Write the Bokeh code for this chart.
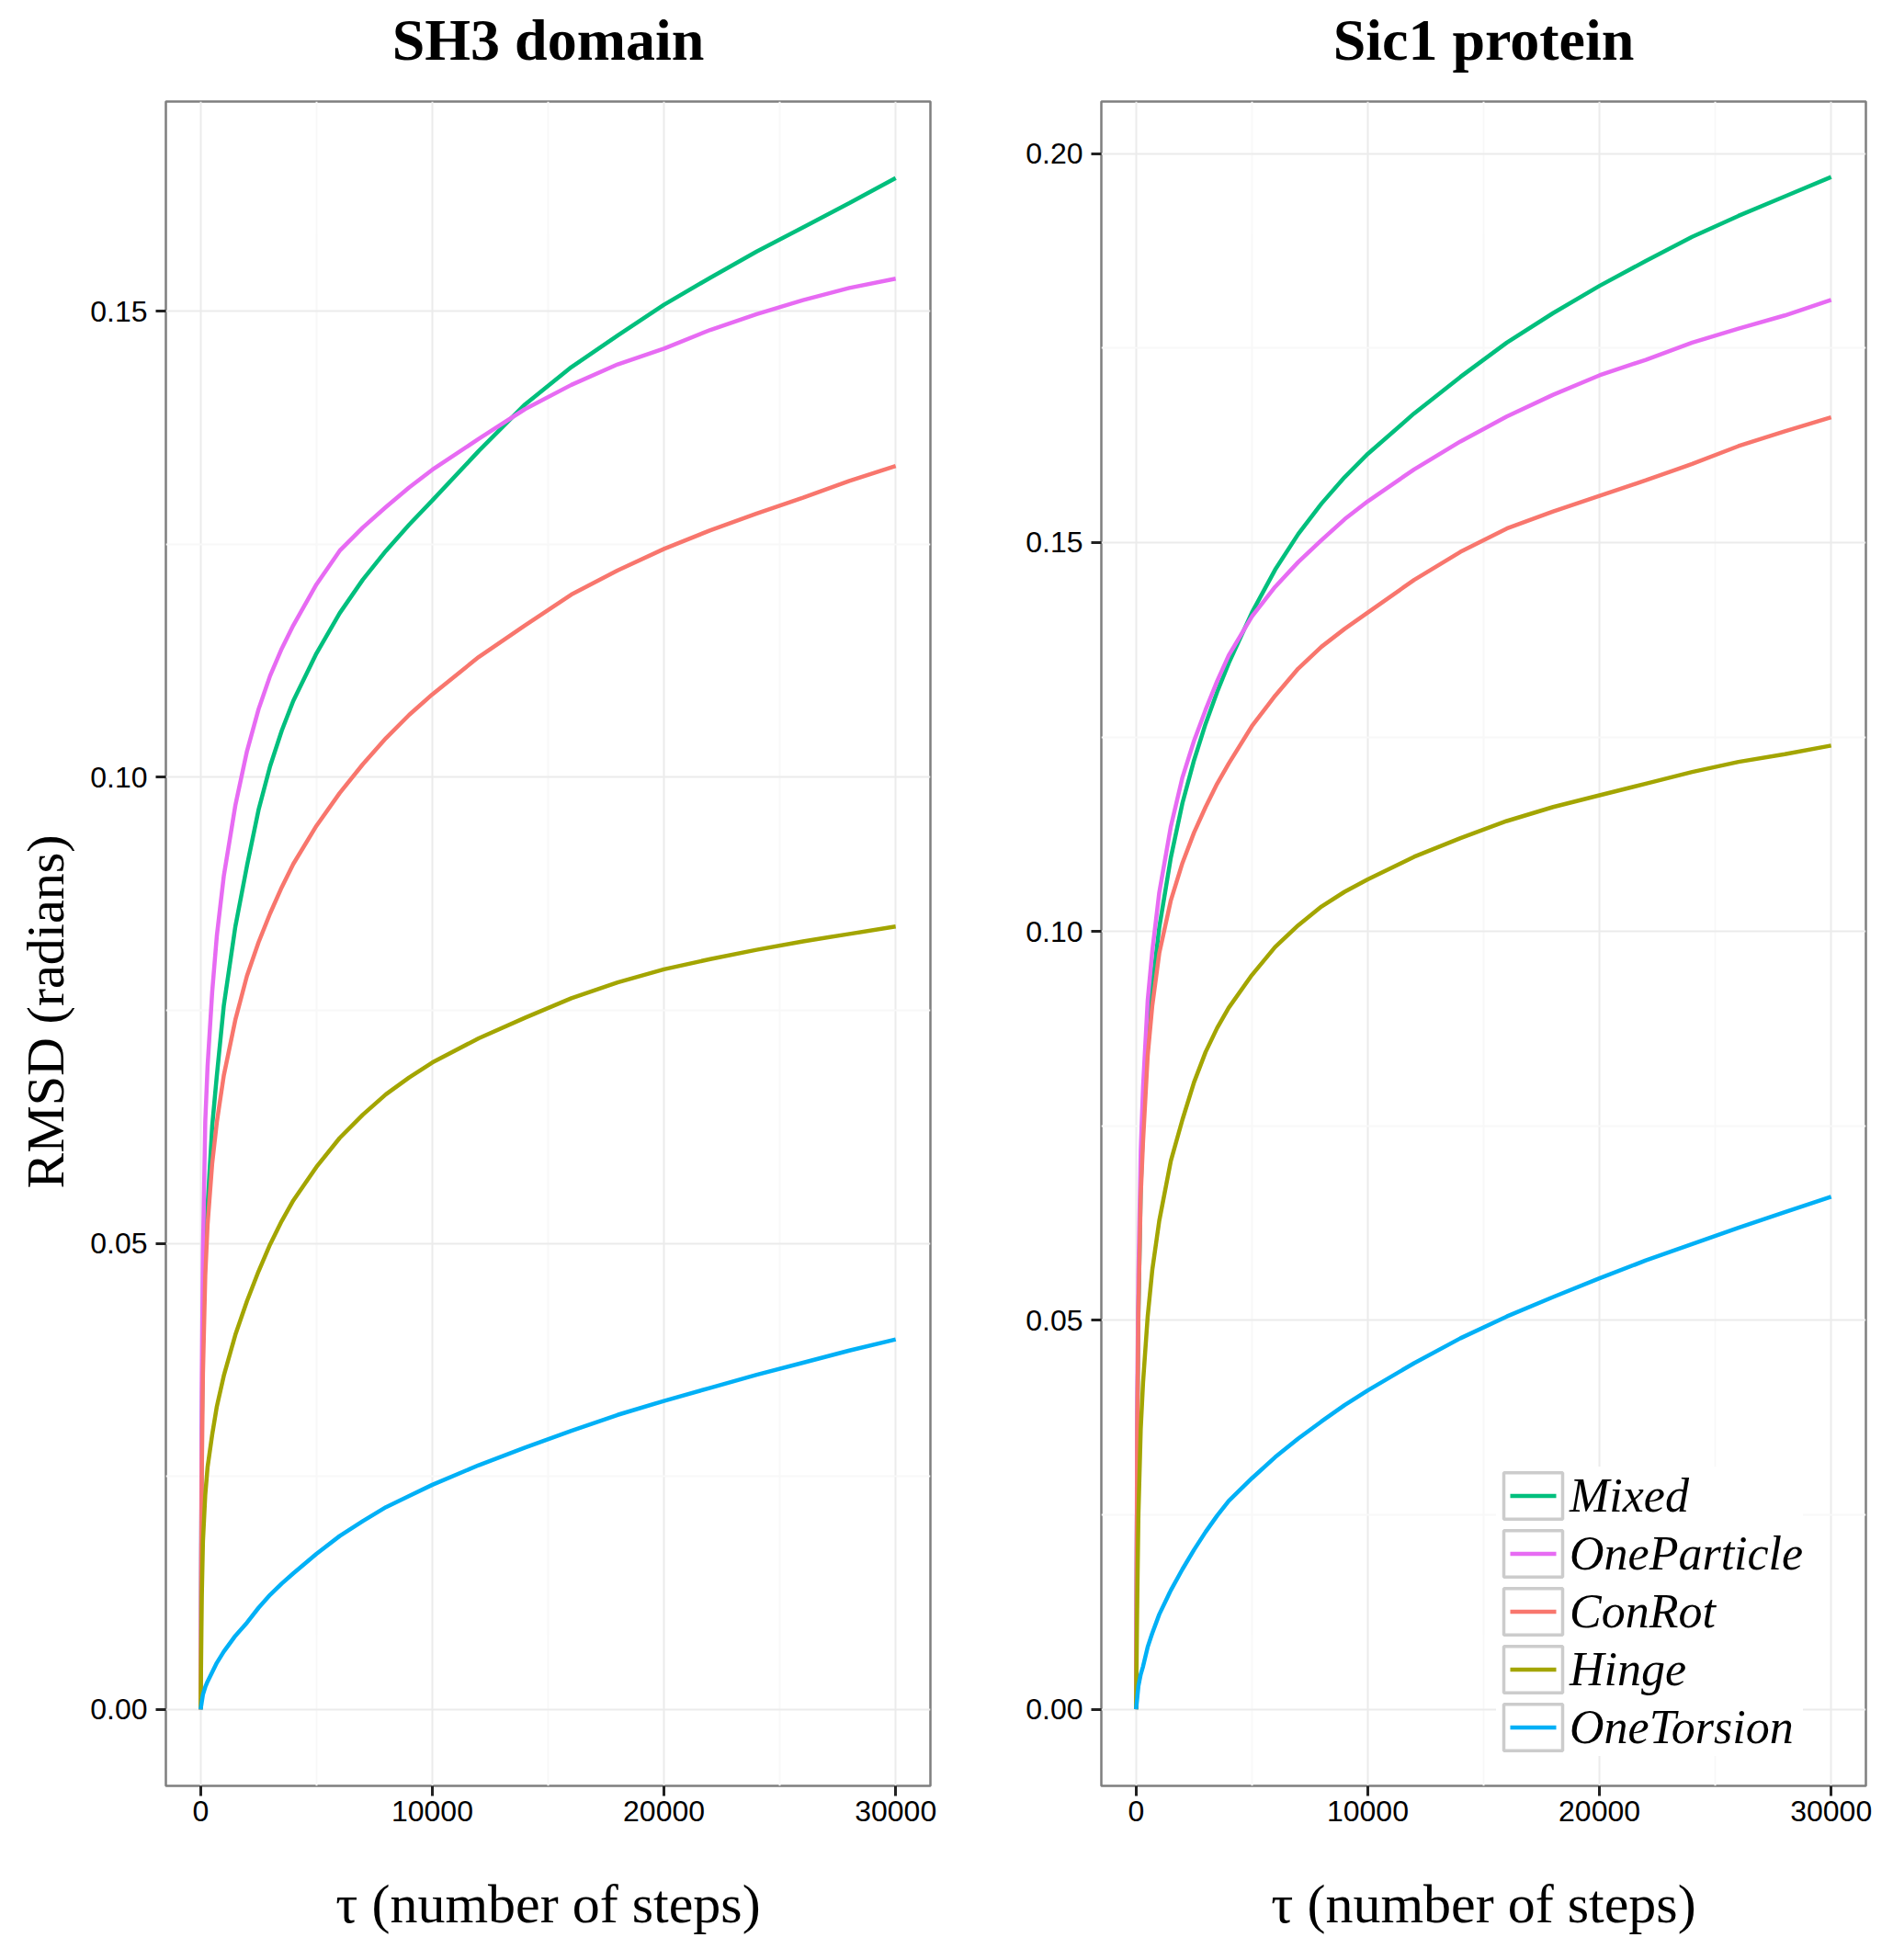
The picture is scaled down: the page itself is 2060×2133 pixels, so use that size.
from bokeh.plotting import figure
from bokeh.layouts import row
from bokeh.models import (FixedTicker, PrintfTickFormatter, Range1d, Title,
                          Legend, LegendItem, ColumnDataSource)
from bokeh.embed import file_html
from bokeh.resources import INLINE

# steps (tau) shared by every series
steps = [0, 50, 100, 200, 300, 500, 700, 1000, 1500, 2000, 2500, 3000, 3500, 4000,
         5000, 6000, 7000, 8000, 9000, 10000, 12000, 14000, 16000, 18000, 20000,
         22000, 24000, 26000, 28000, 30000]

# SH3 domain, RMSD (radians)
sh3_mixed = [0, 0.030, 0.040, 0.049, 0.054, 0.0626, 0.0680, 0.0755, 0.0840, 0.0905, 0.0965, 0.1012,
             0.1050, 0.1082, 0.1133, 0.1176, 0.1212, 0.1243, 0.1271, 0.1297, 0.1350, 0.1400, 0.1440,
             0.1474, 0.1507, 0.1536, 0.1564, 0.1590, 0.1616, 0.1643]
sh3_oneparticle = [0, 0.035, 0.049, 0.063, 0.069, 0.0770, 0.0830, 0.0894, 0.0970, 0.1028, 0.1073, 0.1109,
                   0.1138, 0.1163, 0.1207, 0.1243, 0.1268, 0.1290, 0.1311, 0.1330, 0.1363, 0.1395, 0.1421,
                   0.1443, 0.1460, 0.1480, 0.1497, 0.1512, 0.1525, 0.1535]
sh3_conrot = [0, 0.025, 0.036, 0.0465, 0.052, 0.0586, 0.0630, 0.0680, 0.0740, 0.0787, 0.0823, 0.0854,
              0.0882, 0.0907, 0.0948, 0.0983, 0.1014, 0.1042, 0.1067, 0.1089, 0.1129, 0.1163, 0.1196,
              0.1222, 0.1245, 0.1265, 0.1283, 0.1300, 0.1318, 0.1334]
sh3_hinge = [0, 0.012, 0.018, 0.023, 0.026, 0.0295, 0.0325, 0.0358, 0.0402, 0.0438, 0.0470, 0.0499,
             0.0524, 0.0546, 0.0582, 0.0613, 0.0638, 0.0660, 0.0678, 0.0694, 0.0720, 0.0742, 0.0763,
             0.0780, 0.0794, 0.0805, 0.0815, 0.0824, 0.0832, 0.0840]
sh3_onetorsion = [0, 0.0008, 0.0016, 0.0024, 0.0030, 0.0040, 0.0050, 0.0062, 0.0079, 0.0093, 0.0109, 0.0123,
                  0.0135, 0.0146, 0.0167, 0.0186, 0.0202, 0.0217, 0.0229, 0.0241, 0.0262, 0.0281, 0.0299,
                  0.0316, 0.0331, 0.0345, 0.0359, 0.0372, 0.0385, 0.0397]

# Sic1 protein, RMSD (radians)
sic1_mixed = [0, 0.035, 0.051, 0.067, 0.075, 0.0863, 0.0930, 0.1005, 0.1095, 0.1165, 0.1220, 0.1267,
              0.1308, 0.1345, 0.1410, 0.1465, 0.1511, 0.1550, 0.1584, 0.1614, 0.1666, 0.1713, 0.1757,
              0.1795, 0.1830, 0.1862, 0.1893, 0.1920, 0.1945, 0.1970]
sic1_oneparticle = [0, 0.040, 0.0557, 0.0718, 0.080, 0.0911, 0.0975, 0.1050, 0.1135, 0.1198, 0.1245, 0.1285,
                    0.1322, 0.1355, 0.1405, 0.1443, 0.1475, 0.1503, 0.1530, 0.1553, 0.1594, 0.1630, 0.1662,
                    0.1690, 0.1715, 0.1735, 0.1757, 0.1775, 0.1792, 0.1812]
sic1_conrot = [0, 0.035, 0.051, 0.066, 0.073, 0.0840, 0.0905, 0.0972, 0.1040, 0.1088, 0.1127, 0.1160,
               0.1190, 0.1216, 0.1264, 0.1303, 0.1338, 0.1366, 0.1389, 0.1410, 0.1452, 0.1488, 0.1518,
               0.1540, 0.1560, 0.1580, 0.1601, 0.1624, 0.1643, 0.1661]
sic1_hinge = [0, 0.014, 0.025, 0.036, 0.042, 0.0505, 0.0565, 0.0628, 0.0705, 0.0758, 0.0806, 0.0845,
              0.0876, 0.0902, 0.0944, 0.0980, 0.1008, 0.1032, 0.1051, 0.1067, 0.1096, 0.1120, 0.1142,
              0.1160, 0.1175, 0.1190, 0.1205, 0.1218, 0.1228, 0.1239]
sic1_onetorsion = [0, 0.0015, 0.0030, 0.0045, 0.0055, 0.0080, 0.0098, 0.0122, 0.0153, 0.0180, 0.0205, 0.0228,
                   0.0249, 0.0268, 0.0297, 0.0324, 0.0348, 0.0370, 0.0391, 0.0410, 0.0445, 0.0477, 0.0505,
                   0.0530, 0.0554, 0.0577, 0.0598, 0.0619, 0.0639, 0.0659]

methods = ["Mixed", "OneParticle", "ConRot", "Hinge", "OneTorsion"]
colors = ["#00BF7D", "#E76BF3", "#F8766D", "#A3A500", "#00B0F6"]

x_ticks = [0, 10000, 20000, 30000]
x_minor = [5000, 15000, 25000]

SERIF = "Liberation Serif"
SANS = "Liberation Sans"


def make_panel(title, series, y_ticks, y_minor, y_range, width, left, right):
    p = figure(width=width, height=2133, x_range=Range1d(-1500, 31500),
               y_range=Range1d(*y_range), output_backend="svg",
               toolbar_location=None, min_border_left=left, min_border_right=right,
               min_border_top=109, min_border_bottom=190)

    # spacer first (next to the frame), then the panel title above it
    p.add_layout(Title(text=" ", text_font_size="22px", standoff=0), "above")
    p.add_layout(Title(text=title, align="center", text_font=SERIF,
                       text_font_size="64px", text_font_style="bold",
                       text_color="black", standoff=10), "above")

    p.outline_line_color = "#7F7F7F"
    p.outline_line_width = 2.5
    p.background_fill_color = "white"
    p.border_fill_color = "white"

    p.xaxis.ticker = FixedTicker(ticks=x_ticks, minor_ticks=x_minor)
    p.yaxis.ticker = FixedTicker(ticks=y_ticks, minor_ticks=y_minor)
    p.xaxis.formatter = PrintfTickFormatter(format="%d")
    p.yaxis.formatter = PrintfTickFormatter(format="%.2f")
    for ax in (p.xaxis[0], p.yaxis[0]):
        ax.axis_line_color = None
        ax.minor_tick_line_color = None
        ax.major_tick_in = 0
        ax.major_tick_out = 11
        ax.major_tick_line_color = "#222222"
        ax.major_tick_line_width = 3
        ax.major_label_text_font = SANS
        ax.major_label_text_font_size = "32px"
        ax.major_label_text_color = "black"
    p.xaxis.major_label_standoff = 5
    p.yaxis.major_label_standoff = 9
    p.yaxis.axis_label_standoff = 0

    p.xaxis.axis_label = "τ (number of steps)"
    p.xaxis.axis_label_text_font = SERIF
    p.xaxis.axis_label_text_font_size = "60px"
    p.xaxis.axis_label_text_font_style = "normal"
    p.xaxis.axis_label_text_color = "black"
    p.xaxis.axis_label_standoff = 54

    for g in (p.xgrid[0], p.ygrid[0]):
        g.grid_line_color = "#EBEBEB"
        g.grid_line_width = 2
        g.minor_grid_line_color = "#F8F8F8"
        g.minor_grid_line_width = 2

    renderers = []
    for name, color in zip(methods, colors):
        r = p.line(steps, series[name], line_color=color, line_width=4.5)
        renderers.append(r)
    return p, renderers


sh3 = dict(zip(methods, [sh3_mixed, sh3_oneparticle, sh3_conrot, sh3_hinge, sh3_onetorsion]))
sic1 = dict(zip(methods, [sic1_mixed, sic1_oneparticle, sic1_conrot, sic1_hinge, sic1_onetorsion]))

p1, _ = make_panel("SH3 domain", sh3, [0, 0.05, 0.10, 0.15], [0.025, 0.075, 0.125],
                   (-0.0082, 0.1725), 1048, 180, 36)
p2, lines = make_panel("Sic1 protein", sic1, [0, 0.05, 0.10, 0.15, 0.20],
                       [0.025, 0.075, 0.125, 0.175], (-0.00985, 0.2067), 1012, 150, 30)

# y title sits a bit below the panel centre, as in the original
ytitle = Title(text="RMSD (radians)", align="left", offset=650, text_font=SERIF,
               text_font_size="58px", text_font_style="normal", text_color="black",
               standoff=28)
p1.add_layout(ytitle, "left")

# legend keys: grey box with a short coloured line inside, as in ggplot
nan_src = ColumnDataSource(data=dict(x=[float("nan")], y=[float("nan")]))
items = []
for name, color in zip(methods, colors):
    box = p2.rect(x="x", y="y", width=1, height=1, source=nan_src,
                  fill_color="white", line_color="#CCCCCC", line_width=3.5)
    key = p2.line(x="x", y="y", source=nan_src, line_color=color, line_width=4.5,
                  line_dash="0 15 50 100")
    items.append(LegendItem(label=name, renderers=[box, key]))

legend = Legend(items=items, location=(430, 32), margin=0, padding=20,
                glyph_width=80, glyph_height=63, spacing=0, label_standoff=0,
                label_height=63,
                label_text_font=SERIF, label_text_font_style="italic",
                label_text_font_size="52px", label_text_color="black",
                border_line_color=None, background_fill_color="white",
                background_fill_alpha=1.0)
p2.add_layout(legend, "center")

layout = row(p1, p2)
open("out.html", "w").write(file_html(layout, INLINE))
